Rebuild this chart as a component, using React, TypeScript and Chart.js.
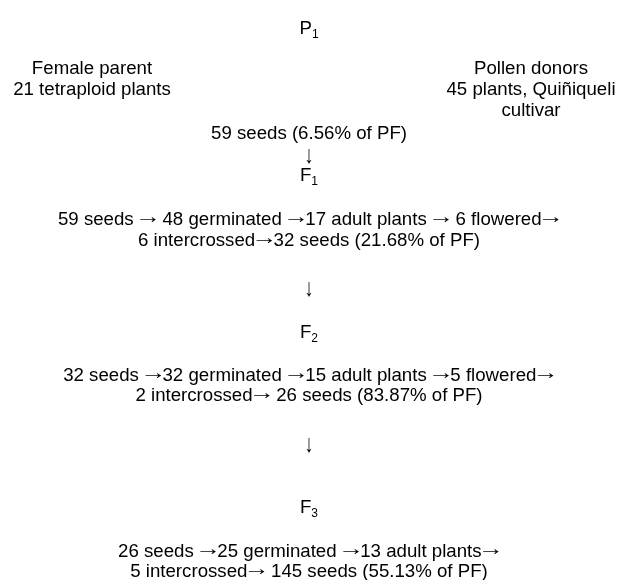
import React, { useEffect, useRef } from "react";
import { Chart, registerables } from "chart.js";

Chart.register(...registerables);

// ---- content (text) ----
const generationBase = ["P", "F", "F", "F"];
const generationSub = ["1", "1", "2", "3"];
const femaleParent = ["Female parent", "21 tetraploid plants"];
const pollenDonors = ["Pollen donors", "45 plants, Quiñiqueli", "cultivar"];
const p1Result = ["59 seeds (6.56% of PF)"];
const f1Lines = [
  "59 seeds \u2192 48 germinated \u219217 adult plants \u2192 6 flowered\u2192",
  "6 intercrossed\u219232 seeds (21.68% of PF)",
];
const f2Lines = [
  "32 seeds \u219232 germinated \u219215 adult plants \u21925 flowered\u2192",
  "2 intercrossed\u2192 26 seeds (83.87% of PF)",
];
const f3Lines = [
  "26 seeds \u219225 germinated \u219213 adult plants\u2192",
  "5 intercrossed\u2192 145 seeds (55.13% of PF)",
];
const downArrow = "\u2193";

// ---- layout: anchor points in the diagram's own coordinate space ----
type Item = { x: number; y: number; text: string; sub?: string };
const items: Item[] = [
  { x: 309, y: 27, text: generationBase[0], sub: generationSub[0] },
  { x: 92, y: 67, text: femaleParent[0] },
  { x: 92, y: 88, text: femaleParent[1] },
  { x: 531, y: 67, text: pollenDonors[0] },
  { x: 531, y: 88, text: pollenDonors[1] },
  { x: 531, y: 109, text: pollenDonors[2] },
  { x: 309, y: 132, text: p1Result[0] },
  { x: 309, y: 153, text: downArrow },
  { x: 309, y: 174, text: generationBase[1], sub: generationSub[1] },
  { x: 309, y: 218, text: f1Lines[0] },
  { x: 309, y: 239, text: f1Lines[1] },
  { x: 309, y: 286, text: downArrow },
  { x: 309, y: 331, text: generationBase[2], sub: generationSub[2] },
  { x: 309, y: 374, text: f2Lines[0] },
  { x: 309, y: 394, text: f2Lines[1] },
  { x: 309, y: 442, text: downArrow },
  { x: 309, y: 506, text: generationBase[3], sub: generationSub[3] },
  { x: 309, y: 550, text: f3Lines[0] },
  { x: 309, y: 570, text: f3Lines[1] },
];

const FONT_FAMILY = '"Liberation Sans", Arial, Helvetica, sans-serif';
const FONT_SIZE = 18.67;
const SUB_SIZE = 12;
const ARROW_ADV = 0.987; // em advance of a Symbol-style arrow

type Run = { text: string; arrow: boolean };
function splitRuns(s: string): Run[] {
  const runs: Run[] = [];
  for (const ch of s) {
    const isArrow = ch === "\u2192" || ch === "\u2193";
    const last = runs[runs.length - 1];
    if (!isArrow && last && !last.arrow) last.text += ch;
    else runs.push({ text: ch, arrow: isArrow });
  }
  return runs;
}

function drawRich(ctx: CanvasRenderingContext2D, s: string, cx: number, baseline: number) {
  const runs = splitRuns(s);
  const font = `${FONT_SIZE}px ${FONT_FAMILY}`;
  ctx.font = font;
  const widths = runs.map((r) => {
    if (r.arrow) return r.text === "\u2193" ? FONT_SIZE * 0.6 : FONT_SIZE * ARROW_ADV;
    return ctx.measureText(r.text).width;
  });
  const total = widths.reduce((a, b) => a + b, 0);
  let x = cx - total / 2;
  ctx.textAlign = "left";
  ctx.textBaseline = "alphabetic";
  runs.forEach((r, i) => {
    const w = widths[i];
    if (r.arrow) {
      ctx.save();
      ctx.textAlign = "center";
      if (r.text === "\u2192") {
        ctx.translate(x + w / 2, baseline - FONT_SIZE * 0.07);
        ctx.scale(1.4, 1.05);
        ctx.fillText(r.text, 0, 0);
      } else {
        ctx.translate(x + w / 2, baseline + FONT_SIZE * 0.16);
        ctx.scale(1, 1.35);
        ctx.fillText(r.text, 0, 0);
      }
      ctx.restore();
    } else {
      ctx.fillText(r.text, x, baseline);
    }
    x += w;
  });
}

const textPlugin = {
  id: "diagramText",
  afterDatasetsDraw(chart: any) {
    const ctx = chart.ctx as CanvasRenderingContext2D;
    const meta = chart.getDatasetMeta(0);
    ctx.save();
    ctx.fillStyle = "#000";
    meta.data.forEach((el: any, i: number) => {
      const it = items[i];
      const px = el.x;
      const baseline = el.y + FONT_SIZE * 0.358;
      if (it.sub) {
        ctx.font = `${FONT_SIZE}px ${FONT_FAMILY}`;
        const w1 = ctx.measureText(it.text).width;
        ctx.font = `${SUB_SIZE}px ${FONT_FAMILY}`;
        const w2 = ctx.measureText(it.sub).width;
        const start = px - (w1 + w2) / 2;
        ctx.textAlign = "left";
        ctx.textBaseline = "alphabetic";
        ctx.font = `${FONT_SIZE}px ${FONT_FAMILY}`;
        ctx.fillText(it.text, start, baseline);
        ctx.font = `${SUB_SIZE}px ${FONT_FAMILY}`;
        ctx.fillText(it.sub, start + w1, baseline + 4);
      } else {
        drawRich(ctx, it.text, px, baseline);
      }
    });
    ctx.restore();
  },
};

export default function App() {
  const ref = useRef<HTMLCanvasElement | null>(null);
  useEffect(() => {
    if (!ref.current) return;
    const chart = new Chart(ref.current, {
      type: "scatter",
      data: {
        datasets: [
          {
            data: items.map((it) => ({ x: it.x, y: it.y })),
            pointRadius: 0,
            pointHoverRadius: 0,
            borderWidth: 0,
          },
        ],
      },
      options: {
        animation: false,
        responsive: true,
        maintainAspectRatio: false,
        layout: { padding: 0 },
        events: [],
        plugins: { legend: { display: false }, tooltip: { enabled: false } },
        scales: {
          x: { type: "linear", min: 0, max: 618, display: false },
          y: { type: "linear", min: 0, max: 580, reverse: true, display: false },
        },
      },
      plugins: [textPlugin],
    });
    return () => chart.destroy();
  }, []);
  return (
    <div style={{ position: "absolute", left: 0, top: 0, width: 618, height: 580, background: "#fff" }}>
      <canvas ref={ref} />
    </div>
  );
}
